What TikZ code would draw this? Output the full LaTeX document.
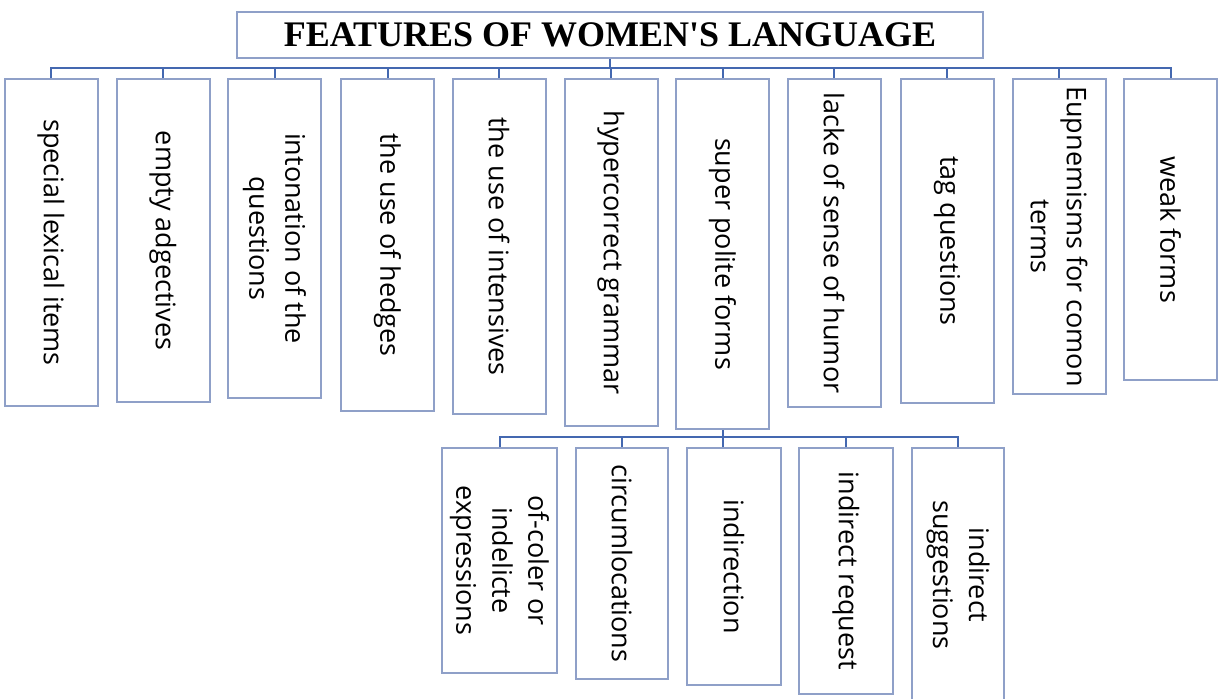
\documentclass[tikz,border=0pt]{standalone}
\usepackage{fontspec}
\setmainfont{Open Sans}
\newfontfamily\titleserif{Liberation Serif}
\definecolor{boxline}{RGB}{143,160,200}
\definecolor{linkblue}{RGB}{68,104,176}

\begin{document}
\begin{tikzpicture}[x=0.5pt, y=-0.5pt, feature/.style={draw=boxline, line width=1pt, rotate=-90, anchor=west, inner sep=2pt, align=center, font=\fontsize{13.5}{18}\selectfont}, link/.style={draw=linkblue, line width=1pt}]

\useasboundingbox (0,0) rectangle (1225,698);

\def\colw{46.5pt}

  % Title
  \node (title) [draw=boxline, line width=1pt, minimum width=373pt, minimum height=23pt, font=\titleserif\bfseries\fontsize{18}{20}\selectfont] at (610,35) {FEATURES OF WOMEN'S LANGUAGE};

  % First row
  \node (lexical) [feature, minimum width=163.5pt, minimum height=\colw] at (51,78) {special lexical items};
  \node (empty) [feature, minimum width=161.5pt, minimum height=\colw] at (163,78) {empty adgectives};
  \node (intonation) [feature, minimum width=159.5pt, minimum height=\colw] at (274.5,78) {intonation of the\\questions};
  \node (hedges) [feature, minimum width=166pt, minimum height=\colw] at (387.5,78) {the use of hedges};
  \node (intensives) [feature, minimum width=167.5pt, minimum height=\colw] at (499,78) {the use of intensives};
  \node (hypercorrect) [feature, minimum width=173.5pt, minimum height=\colw] at (611,78) {hypercorrect grammar};
  \node (polite) [feature, minimum width=175pt, minimum height=\colw] at (722.5,78) {super polite forms};
  \node (humor) [feature, minimum width=164pt, minimum height=\colw] at (834,78) {lacke of sense of humor};
  \node (tag) [feature, minimum width=162pt, minimum height=\colw] at (947,78) {tag questions};
  \node (euphemisms) [feature, minimum width=157.5pt, minimum height=\colw] at (1059,78) {Eupnemisms for comon\\terms};
  \node (weak) [feature, minimum width=150.5pt, minimum height=\colw] at (1170.5,78) {weak forms};

  % Lines to the first row
  \coordinate (bus) at (0,68);
  \draw[link] (title.south) -- (title.south |- bus);
  \draw[link] (lexical.west) -- (lexical.west |- bus) -- (weak.west |- bus) -- (weak.west);
  \draw[link] (empty.west) -- (empty.west |- bus);
  \draw[link] (intonation.west) -- (intonation.west |- bus);
  \draw[link] (hedges.west) -- (hedges.west |- bus);
  \draw[link] (intensives.west) -- (intensives.west |- bus);
  \draw[link] (hypercorrect.west) -- (hypercorrect.west |- bus);
  \draw[link] (polite.west) -- (polite.west |- bus);
  \draw[link] (humor.west) -- (humor.west |- bus);
  \draw[link] (tag.west) -- (tag.west |- bus);
  \draw[link] (euphemisms.west) -- (euphemisms.west |- bus);

  % Second row
  \node (offcolor) [feature, minimum width=112.5pt, minimum height=57.5pt] at (499.5,447) {of-coler or\\indelicte\\expressions};
  \node (circum) [feature, minimum width=115.5pt, minimum height=46pt] at (622,447) {circumlocations};
  \node (indirection) [feature, minimum width=118.5pt, minimum height=47pt] at (734,447) {indirection};
  \node (request) [feature, minimum width=123pt, minimum height=47pt] at (846,447) {indirect request};
  \node (suggestions) [feature, minimum width=127pt, minimum height=46pt] at (958,447) {indirect\\suggestions};

  \coordinate (subbus) at (0,437);
  \draw[link] (polite.east) -- (polite.east |- indirection.west);
  \draw[link] (offcolor.west) -- (offcolor.west |- subbus) -- (suggestions.west |- subbus) -- (suggestions.west);
  \draw[link] (circum.west) -- (circum.west |- subbus);
  \draw[link] (request.west) -- (request.west |- subbus);

\end{tikzpicture}
\end{document}
